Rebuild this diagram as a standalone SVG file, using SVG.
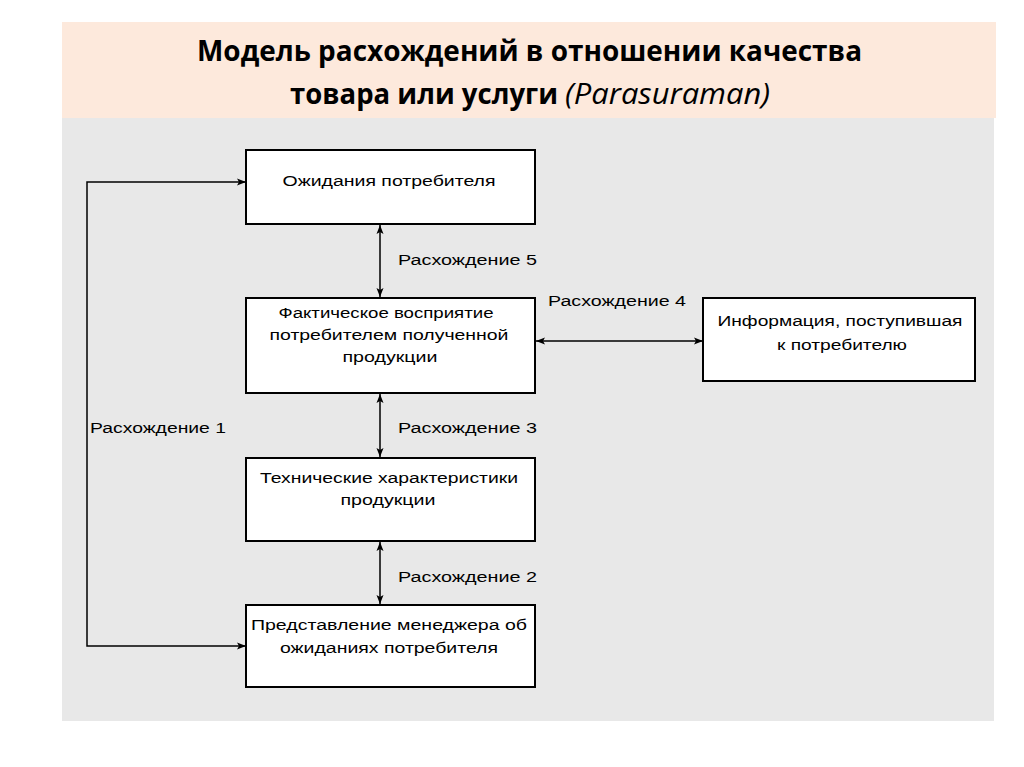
<svg xmlns="http://www.w3.org/2000/svg" width="1024" height="767" viewBox="0 0 1024 767">
<style>
.box{fill:#ffffff;stroke:#000000;stroke-width:2}
.t{font-family:"Liberation Sans",Arial,sans-serif;font-size:15.5px;fill:#000000;text-anchor:middle}
.lbl{font-family:"Liberation Sans",Arial,sans-serif;font-size:15.5px;fill:#000000}
.title{font-family:"Open Sans","Noto Sans",sans-serif;font-size:29px;font-weight:bold;fill:#000000}
.ital{font-family:"Open Sans","Noto Sans",sans-serif;font-size:29px;font-style:italic;fill:#000000}
.conn{fill:none;stroke:#000000;stroke-width:1.5}
</style>
<defs>
<marker id="arr" markerUnits="userSpaceOnUse" markerWidth="10" markerHeight="10" viewBox="0 0 10 10" refX="9" refY="5" orient="auto-start-reverse">
<path d="M0,1.5 L9,5 L0,8.5 L2,5 Z" fill="#000000"/>
</marker>
</defs>
<rect x="0" y="0" width="1024" height="767" fill="#ffffff"/>
<rect x="62" y="22" width="934" height="96" fill="#fde9dc"/>
<rect x="62" y="118" width="932" height="603" fill="#e8e8e8"/>
<g id="title">
<text class="title" x="197" y="61" textLength="665" lengthAdjust="spacingAndGlyphs">Модель расхождений в отношении качества</text>
<text class="title" x="290" y="104" textLength="268" lengthAdjust="spacingAndGlyphs">товара или услуги</text>
<text class="ital" x="565" y="104" textLength="205" lengthAdjust="spacingAndGlyphs">(Parasuraman)</text>
</g>
<g id="connectors">
<path class="conn" d="M246,646 H87 V182 H246" marker-start="url(#arr)" marker-end="url(#arr)"/>
<path class="conn" d="M380,225 V297" marker-start="url(#arr)" marker-end="url(#arr)"/>
<path class="conn" d="M380,394 V457" marker-start="url(#arr)" marker-end="url(#arr)"/>
<path class="conn" d="M380,542 V604" marker-start="url(#arr)" marker-end="url(#arr)"/>
<path class="conn" d="M536,341 H703" marker-start="url(#arr)" marker-end="url(#arr)"/>
<text class="lbl" x="398" y="265" textLength="139" lengthAdjust="spacingAndGlyphs">Расхождение 5</text>
<text class="lbl" x="548" y="306" textLength="138" lengthAdjust="spacingAndGlyphs">Расхождение 4</text>
<text class="lbl" x="398" y="433" textLength="139" lengthAdjust="spacingAndGlyphs">Расхождение 3</text>
<text class="lbl" x="90" y="433" textLength="136" lengthAdjust="spacingAndGlyphs">Расхождение 1</text>
<text class="lbl" x="398" y="582" textLength="139" lengthAdjust="spacingAndGlyphs">Расхождение 2</text>
</g>
<g id="node-expectations">
<rect class="box" x="246" y="150" width="289" height="74"/>
<text class="t" x="389" y="186" textLength="213" lengthAdjust="spacingAndGlyphs">Ожидания потребителя</text>
</g>
<g id="node-perception">
<rect class="box" x="246" y="298" width="289" height="95"/>
<text class="t" x="386" y="318" textLength="215" lengthAdjust="spacingAndGlyphs">Фактическое восприятие</text>
<text class="t" x="389" y="340" textLength="239" lengthAdjust="spacingAndGlyphs">потребителем полученной</text>
<text class="t" x="390" y="362" textLength="95" lengthAdjust="spacingAndGlyphs">продукции</text>
</g>
<g id="node-technical">
<rect class="box" x="246" y="458" width="289" height="83"/>
<text class="t" x="389" y="483" textLength="258" lengthAdjust="spacingAndGlyphs">Технические характеристики</text>
<text class="t" x="388" y="505" textLength="95" lengthAdjust="spacingAndGlyphs">продукции</text>
</g>
<g id="node-manager">
<rect class="box" x="246" y="605" width="289" height="82"/>
<text class="t" x="389" y="630" textLength="276" lengthAdjust="spacingAndGlyphs">Представление менеджера об</text>
<text class="t" x="389" y="653" textLength="218" lengthAdjust="spacingAndGlyphs">ожиданиях потребителя</text>
</g>
<g id="node-information">
<rect class="box" x="703" y="298" width="272" height="83"/>
<text class="t" x="840" y="326" textLength="245" lengthAdjust="spacingAndGlyphs">Информация, поступившая</text>
<text class="t" x="842" y="350" textLength="130" lengthAdjust="spacingAndGlyphs">к потребителю</text>
</g>
</svg>
